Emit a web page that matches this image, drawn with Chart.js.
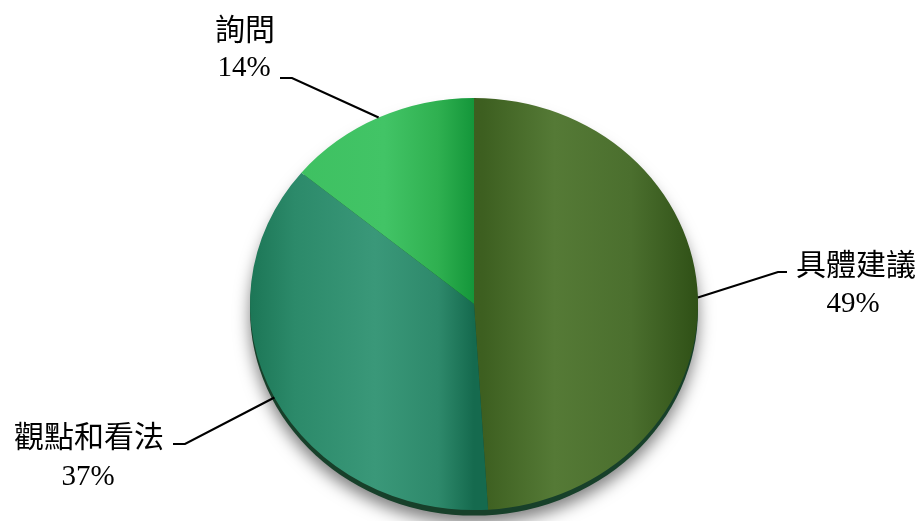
<!DOCTYPE html>
<html><head><meta charset="utf-8">
<script src="https://cdn.jsdelivr.net/npm/chart.js@4.4.1/dist/chart.umd.min.js"></script>
<style>html,body{margin:0;padding:0;background:#fff;}#wrap{width:921px;height:521px;position:relative;}</style>
</head><body>
<div id="wrap"><canvas id="c" width="921" height="521"></canvas></div>
<script>
const categories = ['具體建議', '觀點和看法', '詢問'];
const values = [49, 37, 14];
const pctLabels = ['49%', '37%', '14%'];

const Y_SCALE = 0.92;
const stops = [
  [[0.0,'#3a5b1e'],[0.52,'#3d5f20'],[0.68,'#557a36'],[0.85,'#4b6f2e'],[1.0,'#2f5016']],
  [[0.0,'#1c7656'],[0.1,'#2c8a6a'],[0.28,'#3a9879'],[0.42,'#2e896b'],[0.5,'#156a4e'],[1,'#156a4e']],
  [[0.0,'#3cbf5f'],[0.3,'#42c466'],[0.42,'#2fb050'],[0.5,'#14963a'],[1,'#14963a']]
];
function bg(ctx){
  const chart = ctx.chart, a = chart.chartArea;
  if(!a) return '#4a6';
  const cx = (a.left+a.right)/2, r = 224;
  const g = chart.ctx.createLinearGradient(cx-r,0,cx+r,0);
  stops[ctx.dataIndex].forEach(s=>g.addColorStop(s[0],s[1]));
  return g;
}

const labelPos = [
  {tx:856, ty:264, px:853, py:304, line:[[787,272],[778,272]]},
  {tx:89,  ty:436, px:88,  py:477, line:[[173,444],[185,444]]},
  {tx:245, ty:29,  px:244, py:68,  line:[[280,78],[292,78]]}
];

const squash = {
  id:'squash',
  beforeDatasetsDraw(chart){
    const arc = chart.getDatasetMeta(0).data[0];
    const c = chart.ctx;
    c.save();
    c.translate(arc.x, arc.y);
    c.scale(1, Y_SCALE);
    c.save();
    c.shadowColor='rgba(0,0,0,0.5)';
    c.shadowBlur=16; c.shadowOffsetY=8;
    c.beginPath(); c.arc(0,6,arc.outerRadius,0,Math.PI*2);
    c.fillStyle='#17402a'; c.fill();
    c.restore();
    c.translate(-arc.x, -arc.y);
  },
  afterDatasetsDraw(chart){ chart.ctx.restore(); },
  afterDraw(chart){
    const c = chart.ctx;
    const meta = chart.getDatasetMeta(0);
    c.save();
    meta.data.forEach((arc,i)=>{
      const mid = (arc.startAngle+arc.endAngle)/2;
      const ex = arc.x + Math.cos(mid)*arc.outerRadius;
      const ey = arc.y + Math.sin(mid)*arc.outerRadius*Y_SCALE;
      const p = labelPos[i];
      c.beginPath();
      c.moveTo(p.line[0][0], p.line[0][1]);
      c.lineTo(p.line[1][0], p.line[1][1]);
      c.lineTo(ex, ey);
      c.strokeStyle='#000'; c.lineWidth=2.2; c.stroke();
      c.fillStyle='#000'; c.textAlign='center'; c.textBaseline='middle';
      c.font='30px "Noto Sans CJK TC", serif';
      c.fillText(categories[i], p.tx, p.ty);
      c.font='29px "Liberation Serif", serif';
      c.fillText(pctLabels[i], p.px, p.py);
    });
    c.restore();
  }
};

new Chart(document.getElementById('c'), {
  type:'pie',
  data:{labels:categories, datasets:[{data:values, backgroundColor:bg, borderWidth:0, radius:224}]},
  options:{
    responsive:false, animation:false, events:[],
    layout:{padding:{left:27,right:0,top:87,bottom:0}},
    plugins:{legend:{display:false}, tooltip:{enabled:false}}
  },
  plugins:[squash]
});
</script>
</body></html>
